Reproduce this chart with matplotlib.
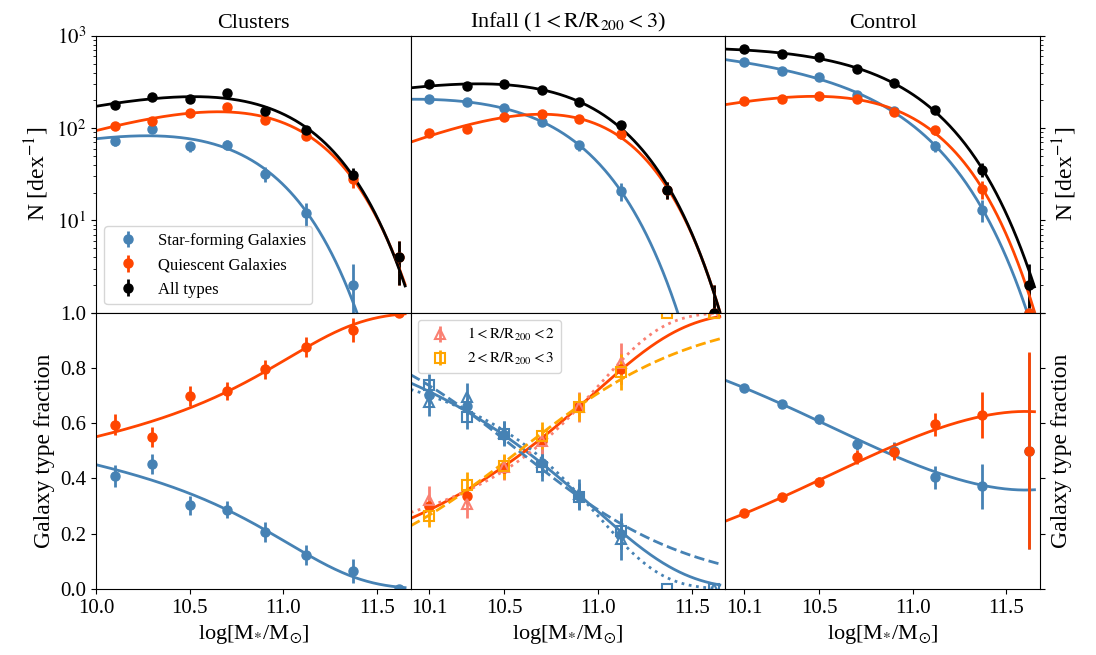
import numpy as np
import matplotlib
matplotlib.use('Agg')
import matplotlib.pyplot as plt

plt.rcParams['font.family'] = 'serif'
plt.rcParams['font.serif'] = ['Liberation Serif', 'DejaVu Serif']
plt.rcParams['mathtext.fontset'] = 'stix'

# stellar mass bin centres, log[M*/Msun]
mass = np.array([10.1, 10.3, 10.5, 10.7, 10.9, 11.12, 11.37, 11.62])

# number densities N [dex^-1] (nan = empty bin)
cl_all = np.array([178, 219, 207, 238, 155, 96, 31, 4])
cl_sf = np.array([72, 98, 63.5, 66.5, 32, 12, 2, np.nan])
cl_q = np.array([106, 121, 145, 168, 122, 83, 28, 4])
cl_all_err = np.array([13, 15, 14, 15, 12, 10, 5.6, 2])
cl_sf_err = np.array([8.5, 10, 8, 8, 5.7, 3.5, 1.4, 0])
cl_q_err = np.array([10, 11, 12, 13, 11, 9, 5.3, 2])

in_all = np.array([298, 286, 298, 259, 193, 108, 21.5, 1.0])
in_sf = np.array([207, 190, 166, 117, 65, 21, np.nan, np.nan])
in_q = np.array([89, 97.5, 131, 141, 126, 86, 21.5, 1.0])
in_all_err = np.array([17, 17, 17, 16, 14, 10, 4.6, 1])
in_sf_err = np.array([14, 14, 13, 11, 8, 4.6, 0, 0])
in_q_err = np.array([9.4, 9.9, 11, 12, 11, 9.3, 4.6, 1])

co_all = np.array([716, 632, 591, 434, 306, 158, 35.6, 2.0])
co_sf = np.array([521, 420, 358, 232, 153, 63.7, 13.1, 1])
co_q = np.array([196, 208, 226, 208, 150, 94.4, 21.9, 1])
co_all_err = np.array([27, 25, 24, 21, 17.5, 12.6, 6, 1.4])
co_sf_err = np.array([23, 20.5, 19, 15, 12.4, 8, 3.6, 1])
co_q_err = np.array([14, 14.4, 15, 14.4, 12.2, 9.7, 4.7, 1])

# galaxy type fractions
cl_fsf = np.array([0.408, 0.451, 0.303, 0.286, 0.206, 0.123, 0.065, 0.0])
cl_fq = np.array([0.594, 0.549, 0.697, 0.716, 0.795, 0.876, 0.936, 1.0])
cl_fsf_err = np.array([0.039, 0.036, 0.035, 0.031, 0.036, 0.036, 0.044, 0])
cl_fq_err = np.array([0.038, 0.036, 0.036, 0.031, 0.035, 0.036, 0.043, 0])

in_fsf = np.array([0.70, 0.661, 0.558, 0.457, 0.338, 0.199, np.nan, np.nan])
in_fq = np.array([0.299, 0.338, 0.437, 0.537, 0.661, 0.797, np.nan, np.nan])
in_f_err = np.array([0.03, 0.03, 0.03, 0.035, 0.04, 0.055, 0, 0])

# 1 < R/R200 < 2
r12_fsf = np.array([0.676, 0.694, 0.564, 0.458, 0.344, 0.18, np.nan, 0.0])
r12_fq = np.array([0.322, 0.307, 0.44, 0.537, 0.658, 0.816, np.nan, 1.0])
r12_err = np.array([0.05, 0.05, 0.045, 0.05, 0.055, 0.075, 0, 0])
# 2 < R/R200 < 3
r23_fsf = np.array([0.737, 0.622, 0.561, 0.44, 0.334, 0.211, 0.0, 0.0])
r23_fq = np.array([0.265, 0.377, 0.444, 0.555, 0.658, 0.785, 1.0, 1.0])
r23_err = np.array([0.04, 0.045, 0.045, 0.05, 0.05, 0.065, 0, 0])

co_fsf = np.array([0.726, 0.668, 0.613, 0.524, 0.50, 0.404, 0.371, 0.5])
co_fq = np.array([0.275, 0.331, 0.388, 0.477, 0.497, 0.596, 0.628, 0.5])
co_fsf_err = np.array([0.012, 0.015, 0.018, 0.022, 0.03, 0.041, 0.082, 0.355])
co_fq_err = np.array([0.012, 0.015, 0.018, 0.025, 0.03, 0.041, 0.083, 0.356])

C_SF = 'steelblue'
C_Q = 'orangered'
C_R12 = 'salmon'
C_R23 = 'orange'

xg = np.linspace(10.0, 11.65, 300)


def fit_schechter(x, n, e):
    # weighted grid fit of a Schechter function in log space
    ok = np.isfinite(n) & (n > 0)
    xs, ys = x[ok], np.log10(n[ok])
    w = (n[ok] * np.log(10) / e[ok]) ** 2
    M = np.arange(10.0, 12.5, 0.005)[:, None, None]
    a = np.arange(-2.5, 1.5, 0.01)[None, :, None]
    t = xs - M
    shape = t * (1 + a) - 10 ** t / np.log(10)
    c = ((ys - shape) * w).sum(-1) / w.sum()
    chi = (((ys - shape - c[..., None]) ** 2) * w).sum(-1)
    i, j = np.unravel_index(np.argmin(chi), chi.shape)
    Mb, ab, cb = M[i, 0, 0], a[0, j, 0], c[i, j]
    tg = xg - Mb
    return 10 ** (cb + tg * (1 + ab) - 10 ** tg / np.log(10))


def fit_fraction(x, f, e, curved=True):
    # logit of a ratio of two Schechter functions: c0 + c1*x (+ c2*10^(x-11))
    ok = np.isfinite(f) & (f > 0) & (f < 1)
    xs, fs, es = x[ok], f[ok], e[ok]
    y = np.log(fs / (1 - fs))
    s = es / (fs * (1 - fs))
    cols = [np.ones_like(xs), xs]
    if curved:
        cols.append(10 ** (xs - 11))
    A = np.vstack(cols).T
    coef = np.linalg.lstsq(A / s[:, None], y / s, rcond=None)[0]
    lg = coef[0] + coef[1] * xg
    if curved:
        lg = lg + coef[2] * 10 ** (xg - 11)
    return 1 / (1 + np.exp(-lg))


fig, axes = plt.subplots(2, 3, figsize=(10.96, 6.55), dpi=100)
fig.subplots_adjust(left=0.0876, right=0.949, bottom=0.1008, top=0.945,
                    wspace=0, hspace=0)

eb = dict(fmt='o', ms=6.5, elinewidth=2, capsize=0)
panels = [
    (cl_sf, cl_sf_err, cl_q, cl_q_err, cl_all, cl_all_err),
    (in_sf, in_sf_err, in_q, in_q_err, in_all, in_all_err),
    (co_sf, co_sf_err, co_q, co_q_err, co_all, co_all_err),
]
fits = []
for k, (sf, sfe, q, qe, al, ale) in enumerate(panels):
    ax = axes[0, k]
    fsf = fit_schechter(mass, sf, sfe)
    fq = fit_schechter(mass, q, qe)
    fall = fit_schechter(mass, al, ale)
    fits.append((fsf, fq))
    ax.errorbar(mass, sf, yerr=sfe, color=C_SF, label='Star-forming Galaxies', **eb)
    ax.errorbar(mass, q, yerr=qe, color=C_Q, label='Quiescent Galaxies', **eb)
    ax.errorbar(mass, al, yerr=ale, color='black', label='All types', **eb)
    ax.plot(xg, fsf, color=C_SF, lw=2)
    ax.plot(xg, fq, color=C_Q, lw=2)
    ax.plot(xg, fall, color='black', lw=2)
    ax.set_yscale('log')
    ax.set_ylim(1, 1000)
    ax.set_xlim(10.0, 11.68)
    ax.tick_params(axis='x', bottom=False, labelbottom=False)

axes[0, 0].set_title('Clusters', fontsize=16)
axes[0, 1].set_title(r'Infall ($\mathrm{1<R/R_{200}<3}$)', fontsize=16)
axes[0, 2].set_title('Control', fontsize=16)
axes[0, 0].legend(loc='lower left', fontsize=12)

# fractions
bottom = [
    (cl_fsf, cl_fsf_err, cl_fq, cl_fq_err),
    (in_fsf, in_f_err, in_fq, in_f_err),
    (co_fsf, co_fsf_err, co_fq, co_fq_err),
]
for k, (fs, fse, fq, fqe) in enumerate(bottom):
    ax = axes[1, k]
    nsf, nq = fits[k]
    ax.plot(xg, nsf / (nsf + nq), color=C_SF, lw=2)
    ax.plot(xg, nq / (nsf + nq), color=C_Q, lw=2)
    ax.errorbar(mass, fs, yerr=fse, color=C_SF, **eb)
    ax.errorbar(mass, fq, yerr=fqe, color=C_Q, **eb)
    ax.set_ylim(0, 1)
    ax.set_xlim(10.0, 11.68)
    ax.set_xlabel(r'log[M$_{*}$/M$_{\odot}$]', fontsize=16)

ax = axes[1, 1]
ob = dict(ms=7, mfc='none', mew=1.5, elinewidth=2, capsize=0)
ax.plot(xg, fit_fraction(mass, r12_fsf, r12_err), color=C_SF, lw=2, ls=':')
ax.plot(xg, fit_fraction(mass, r12_fq, r12_err), color=C_R12, lw=2, ls=':')
ax.plot(xg, fit_fraction(mass, r23_fsf, r23_err, curved=False), color=C_SF, lw=2, ls='--')
ax.plot(xg, fit_fraction(mass, r23_fq, r23_err, curved=False), color=C_R23, lw=2, ls='--')
ax.errorbar(mass, r12_fsf, yerr=r12_err, fmt='^', color=C_SF, **ob)
ax.errorbar(mass, r12_fq, yerr=r12_err, fmt='^', color=C_R12,
            label=r'$\mathrm{1<R/R_{200}<2}$', **ob)
ax.errorbar(mass, r23_fsf, yerr=r23_err, fmt='s', color=C_SF, **ob)
ax.errorbar(mass, r23_fq, yerr=r23_err, fmt='s', color=C_R23,
            label=r'$\mathrm{2<R/R_{200}<3}$', **ob)
ax.legend(loc='upper left', fontsize=11)

# ticks and labels
axes[0, 0].set_yticks([1, 10, 100, 1000])
axes[0, 0].set_yticklabels(['', r'$10^{1}$', r'$10^{2}$', r'$10^{3}$'])
axes[0, 0].set_ylabel(r'N [dex$^{-1}$]', fontsize=17)
axes[1, 0].set_yticks(np.arange(0, 1.01, 0.2))
axes[1, 0].set_yticklabels(['%.1f' % v for v in np.arange(0, 1.01, 0.2)])
axes[1, 0].set_ylabel('Galaxy type fraction', fontsize=17)
for r in range(2):
    axes[r, 1].tick_params(axis='y', which='both', left=False, labelleft=False)
    axes[r, 2].yaxis.tick_right()
    axes[r, 2].yaxis.set_label_position('right')
    axes[r, 2].tick_params(axis='y', which='both', labelright=False)
axes[0, 2].set_yticks([1, 10, 100, 1000])
axes[0, 2].set_ylabel(r'N [dex$^{-1}$]', fontsize=17)
axes[1, 2].set_yticks(np.arange(0, 1.01, 0.2))
axes[1, 2].set_ylabel('Galaxy type fraction', fontsize=17)

axes[1, 0].set_xticks([10.0, 10.5, 11.0, 11.5])
for k in (1, 2):
    axes[1, k].set_xticks([10.1, 10.5, 11.0, 11.5])
for ax in axes.flat:
    ax.tick_params(labelsize=15)
for ax in axes[1]:
    ax.set_xticklabels(['%.1f' % v for v in ax.get_xticks()])

plt.savefig('out.png', dpi=100)
plt.close()
